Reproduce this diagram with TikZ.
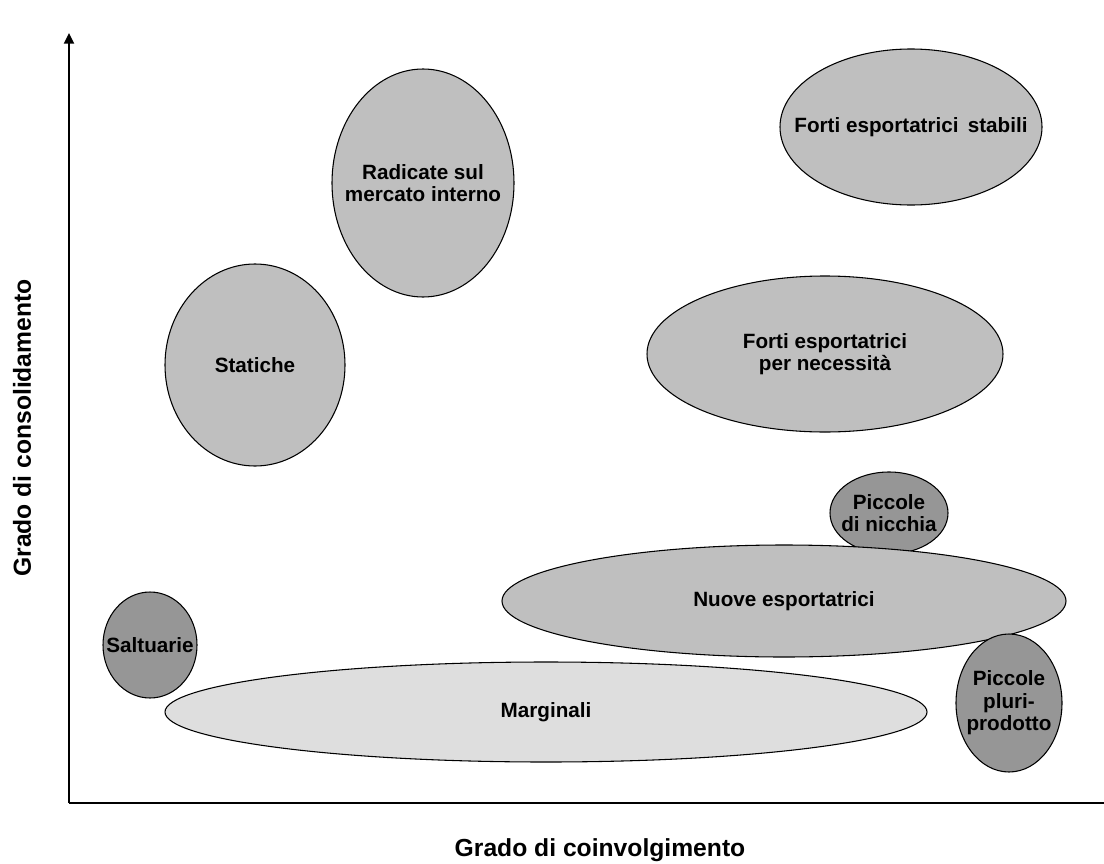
\documentclass[tikz,border=0pt]{standalone}
\usepackage{fontspec}
\setmainfont{Liberation Sans}
\usetikzlibrary{shapes.geometric,arrows.meta}

\tikzset{
  blob/.style n args={3}{ellipse,draw,line width=0.8pt,inner sep=0pt,
    minimum width=#1*0.75pt,minimum height=#2*0.75pt,
    label={[blobtext]center:#3}},
  blobtext/.style={align=center,inner sep=0pt,
    font=\fontsize{15.5}{16.8}\selectfont\bfseries},
  light/.style={fill=gray!50!white},
  pale/.style={fill=black!13},
  dark/.style={fill=black!41},
  axislabel/.style={font=\fontsize{18.5}{22}\selectfont\bfseries}
}

\begin{document}
\begin{tikzpicture}[x=0.75pt,y=-0.75pt]
        \useasboundingbox (0,0) rectangle (1104,864);

        % Draw axes
        \coordinate (o) at (69,803);
        \coordinate (ytop) at (69,33);
        \coordinate (xend) at (1104,803);
        \draw[line width=1.5pt,-{Triangle[length=8pt,width=7.5pt]}] (o) -- (ytop);
        \draw[line width=1.5pt] (o) -- (xend);

        % Draw groups
        \node[blob={262}{156}{Forti esportatrici\, stabili},light] (stabili) at (911,127) {};
        \node[blob={182}{228}{Radicate sul\\mercato interno},light] (radicate) at (423,183) {};
        \node[blob={180}{202}{Statiche},light] (statiche) at (255,365) {};
        \node[blob={356}{156}{Forti esportatrici\\per necessità},light] (necessita) at (825,354) {};
        \node[blob={118}{82}{Piccole\\di nicchia},dark] (nicchia) at (889,513) {};
        \node[blob={564}{112}{Nuove esportatrici},light] (nuove) at (784,601) {};
        \node[blob={94}{106}{Saltuarie},dark] (saltuarie) at (150,645) {};
        \node[blob={762}{100}{Marginali},pale] (marginali) at (546,712) {};
        \node[blob={106}{138}{Piccole\\pluri-\\prodotto},dark] (pluri) at (1009,703) {};

        % Draw axis labels
        \node[axislabel] (xlab) at (600,850) {Grado di coinvolgimento};
        \node[axislabel,rotate=90] (ylab) at (22,428) {Grado di consolidamento};
\end{tikzpicture}
\end{document}
